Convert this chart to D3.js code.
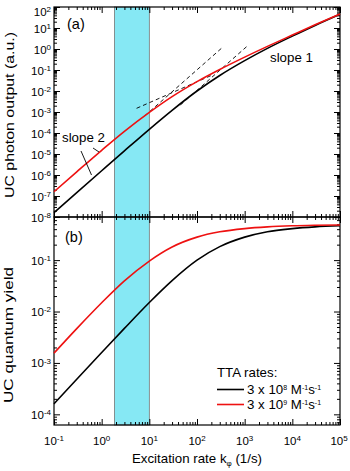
<!DOCTYPE html>
<html>
<head>
<meta charset="utf-8">
<script src="https://cdn.jsdelivr.net/npm/d3@7"></script>
<style>
  body { margin: 0; background: #fff; }
  svg { font-family: "Liberation Sans", Arial, sans-serif; }
  .frame { fill: none; stroke: #000; stroke-width: 1.2; }
  .axis path { display: none; }
  .axis line { stroke: #000; stroke-width: 1; }
  .tick-label { font-size: 11.5px; fill: #000; }
  .title { font-size: 13.3px; fill: #000; }
</style>
</head>
<body>
<div id="chart"></div>
<script>
// excitation rate (1/s), read at half decades
var kPts = [0.1, 0.3, 1, 3, 10, 30, 100, 300, 1000, 3000, 10000, 30000, 100000]

// UC photon output (a.u.)
var ucLow  = [1.6e-8, 1.44e-7, 1.59e-6, 1.41e-5, 1.5e-4, 1.2e-3, 1.0e-2, 5.5e-2, 0.28, 1.07, 4.1, 13.3, 45]
var ucHigh = [1.59e-7, 1.41e-6, 1.5e-5, 1.2e-4, 9.6e-4, 5.4e-3, 2.8e-2, 0.106, 0.41, 1.33, 4.6, 14.2, 47]

// UC quantum yield
var qyLow  = [1.6e-4, 4.8e-4, 1.59e-3, 4.7e-3, 1.5e-2, 4.0e-2, 0.1, 0.183, 0.28, 0.357, 0.41, 0.443, 0.465]
var qyHigh = [1.55e-3, 4.65e-3, 1.48e-2, 3.95e-2, 0.096, 0.18, 0.28, 0.355, 0.41, 0.443, 0.465, 0.476, 0.483]

// dashed guide lines (x, y pairs of end points)
var guideLines = [
    [[8, 6.5e-4], [356, 1.29]],
    [[45, 2.17e-3], [1160, 1.44]],
    [[5.4, 1.5e-3], [200, 5.5e-2]]
]

var band = [1.85, 10]

var xExp = [-1, 0, 1, 2, 3, 4, 5]
var topExp = [2, 1, 0, -1, -2, -3, -4, -5, -6, -7, -8]
var botExp = [-1, -2, -3, -4]

var seriesColors = ["#000000", "#ee1111"]
var legendLabels = ["8", "9"]

var W = 350, H = 471
var margin = { left: 54, right: 340, top: 7, mid: 217, bottom: 425 }

var svg = d3.select("#chart").append("svg")
    .attr("width", W)
    .attr("height", H)

var x = d3.scaleLog().domain([0.1, 1e5]).range([margin.left, margin.right])
var yTop = d3.scaleLog().domain([1e-8, 1e2]).range([margin.mid, margin.top])
var yBot = d3.scaleLog().domain([6.2e-5, 0.69]).range([margin.bottom, margin.mid])

function minorTicks(lo, hi){
    var out = []
    for (var e = Math.floor(Math.log10(lo)); e <= Math.ceil(Math.log10(hi)); e++){
        for (var m = 2; m <= 9; m++){
            var v = m * Math.pow(10, e)
            if (v > lo && v < hi) out.push(v)
        }
    }
    return out
}

// cyan band across both panels
svg.append("rect")
    .attr("x", x(band[0]))
    .attr("y", margin.top)
    .attr("width", x(band[1]) - x(band[0]))
    .attr("height", margin.bottom - margin.top)
    .attr("fill", "#86e8f4")
    .attr("stroke", "#777")
    .attr("stroke-width", 0.8)

function drawAxes(y, y0, y1, yMajor){
    var xMaj = xExp.map(d => Math.pow(10, d))
    var xMin = minorTicks(0.1, 1e5)
    var yMaj = yMajor.map(d => Math.pow(10, d))
    var yMin = minorTicks(y.domain()[0], y.domain()[1])

    var defs = [
        [d3.axisBottom(x), xMaj, 6, "translate(0," + y0 + ")"],
        [d3.axisBottom(x), xMin, 3, "translate(0," + y0 + ")"],
        [d3.axisTop(x), xMaj, 6, "translate(0," + y1 + ")"],
        [d3.axisTop(x), xMin, 3, "translate(0," + y1 + ")"],
        [d3.axisLeft(y), yMaj, 6, "translate(" + margin.left + ",0)"],
        [d3.axisLeft(y), yMin, 3, "translate(" + margin.left + ",0)"],
        [d3.axisRight(y), yMaj, 6, "translate(" + margin.right + ",0)"],
        [d3.axisRight(y), yMin, 3, "translate(" + margin.right + ",0)"]
    ]
    defs.forEach(function(d){
        svg.append("g")
            .attr("class", "axis")
            .attr("transform", d[3])
            .call(d[0].tickValues(d[1]).tickSize(-d[2]).tickFormat(""))
    })

    svg.append("rect")
        .attr("class", "frame")
        .attr("x", margin.left)
        .attr("y", y1)
        .attr("width", margin.right - margin.left)
        .attr("height", y0 - y1)
}

drawAxes(yTop, margin.mid, margin.top, topExp)
drawAxes(yBot, margin.bottom, margin.mid, botExp)

// power-of-ten labels
function powLabel(sel, exp){
    sel.append("tspan").text("10")
    sel.append("tspan")
        .attr("dy", "-0.45em")
        .attr("font-size", "8px")
        .text(exp < 0 ? "-" + (-exp) : exp)
}

topExp.forEach(function(e){
    // the top label sits a little lower so it stays inside the figure
    var shift = (e == 2) ? 4 : 0
    var t = svg.append("text")
        .attr("class", "tick-label")
        .attr("x", margin.left - 3)
        .attr("y", yTop(Math.pow(10, e)) + 4.5 + shift)
        .attr("text-anchor", "end")
    powLabel(t, e)
})

botExp.forEach(function(e){
    var t = svg.append("text")
        .attr("class", "tick-label")
        .attr("x", margin.left - 3)
        .attr("y", yBot(Math.pow(10, e)) + 4.5)
        .attr("text-anchor", "end")
    powLabel(t, e)
})

xExp.forEach(function(e){
    var t = svg.append("text")
        .attr("class", "tick-label")
        .attr("x", x(Math.pow(10, e)) - (e == 5 ? 1 : 0))
        .attr("y", 445)
        .attr("text-anchor", "middle")
    powLabel(t, e)
})

// curves
var lineTop = d3.line()
    .x(d => x(d[0]))
    .y(d => yTop(d[1]))
    .curve(d3.curveMonotoneX)

var lineBot = d3.line()
    .x(d => x(d[0]))
    .y(d => yBot(d[1]))
    .curve(d3.curveMonotoneX)

var guide = d3.line()
    .x(d => x(d[0]))
    .y(d => yTop(d[1]))

svg.selectAll(".guide")
    .data(guideLines)
    .enter().append("path")
    .attr("class", "guide")
    .attr("d", guide)
    .attr("fill", "none")
    .attr("stroke", "#000")
    .attr("stroke-width", 0.9)
    .attr("stroke-dasharray", "4,3")

var topSeries = [ucLow, ucHigh]
var botSeries = [qyLow, qyHigh]

topSeries.forEach(function(s, i){
    svg.append("path")
        .datum(kPts.map((k, j) => [k, s[j]]))
        .attr("d", lineTop)
        .attr("fill", "none")
        .attr("stroke", seriesColors[i])
        .attr("stroke-width", 1.6)
})

botSeries.forEach(function(s, i){
    svg.append("path")
        .datum(kPts.map((k, j) => [k, s[j]]))
        .attr("d", lineBot)
        .attr("fill", "none")
        .attr("stroke", seriesColors[i])
        .attr("stroke-width", 1.6)
})

// annotations
svg.append("text").attr("x", 67).attr("y", 29).attr("font-size", "14.5px").text("(a)")
svg.append("text").attr("x", 65).attr("y", 242).attr("font-size", "14.5px").text("(b)")
svg.append("text").attr("class", "title").attr("font-size", "12.8px").attr("x", 62).attr("y", 142).text("slope 2")
svg.append("text").attr("class", "title").attr("font-size", "12.8px").attr("x", 270).attr("y", 62).text("slope 1")

svg.append("line")
    .attr("x1", 81).attr("y1", 151)
    .attr("x2", 91.5).attr("y2", 175)
    .attr("stroke", "#000").attr("stroke-width", 0.9)
svg.append("line")
    .attr("x1", 93).attr("y1", 148)
    .attr("x2", 99).attr("y2", 152)
    .attr("stroke", "#000").attr("stroke-width", 0.9)

// axis titles (the rotated titles run long in the original)
svg.append("text")
    .attr("class", "title")
    .attr("font-size", "14px")
    .attr("transform", "translate(14,115) rotate(-90)")
    .attr("text-anchor", "middle")
    .attr("textLength", 166)
    .attr("lengthAdjust", "spacingAndGlyphs")
    .text("UC photon output (a.u.)")

svg.append("text")
    .attr("class", "title")
    .attr("font-size", "14px")
    .attr("transform", "translate(13,335) rotate(-90)")
    .attr("text-anchor", "middle")
    .attr("textLength", 136)
    .attr("lengthAdjust", "spacingAndGlyphs")
    .text("UC quantum yield")

var xt = svg.append("text")
    .attr("class", "title")
    .attr("x", (margin.left + margin.right) / 2)
    .attr("y", 463)
    .attr("text-anchor", "middle")
xt.append("tspan").text("Excitation rate k")
xt.append("tspan").attr("dy", "3").attr("font-size", "8px").text("φ")
xt.append("tspan").attr("dy", "-3").text(" (1/s)")

// legend
svg.append("text").attr("class", "title").attr("font-size", "12px").attr("x", 217).attr("y", 377).text("TTA rates:")

legendLabels.forEach(function(p, i){
    var ly = 389.5 + i * 15
    svg.append("line")
        .attr("x1", 217).attr("x2", 244)
        .attr("y1", ly).attr("y2", ly)
        .attr("stroke", seriesColors[i])
        .attr("stroke-width", 1.6)
    var t = svg.append("text")
        .attr("class", "title")
        .attr("font-size", "11.5px")
        .attr("x", 247)
        .attr("y", ly + 4)
    t.append("tspan").text("3 x 10")
    t.append("tspan").attr("dy", "-4").attr("font-size", "7px").text(p)
    t.append("tspan").attr("dy", "4").text(" M")
    t.append("tspan").attr("dy", "-4").attr("font-size", "7px").text("-1")
    t.append("tspan").attr("dy", "4").text("s")
    t.append("tspan").attr("dy", "-4").attr("font-size", "7px").text("-1")
})
</script>
</body>
</html>
